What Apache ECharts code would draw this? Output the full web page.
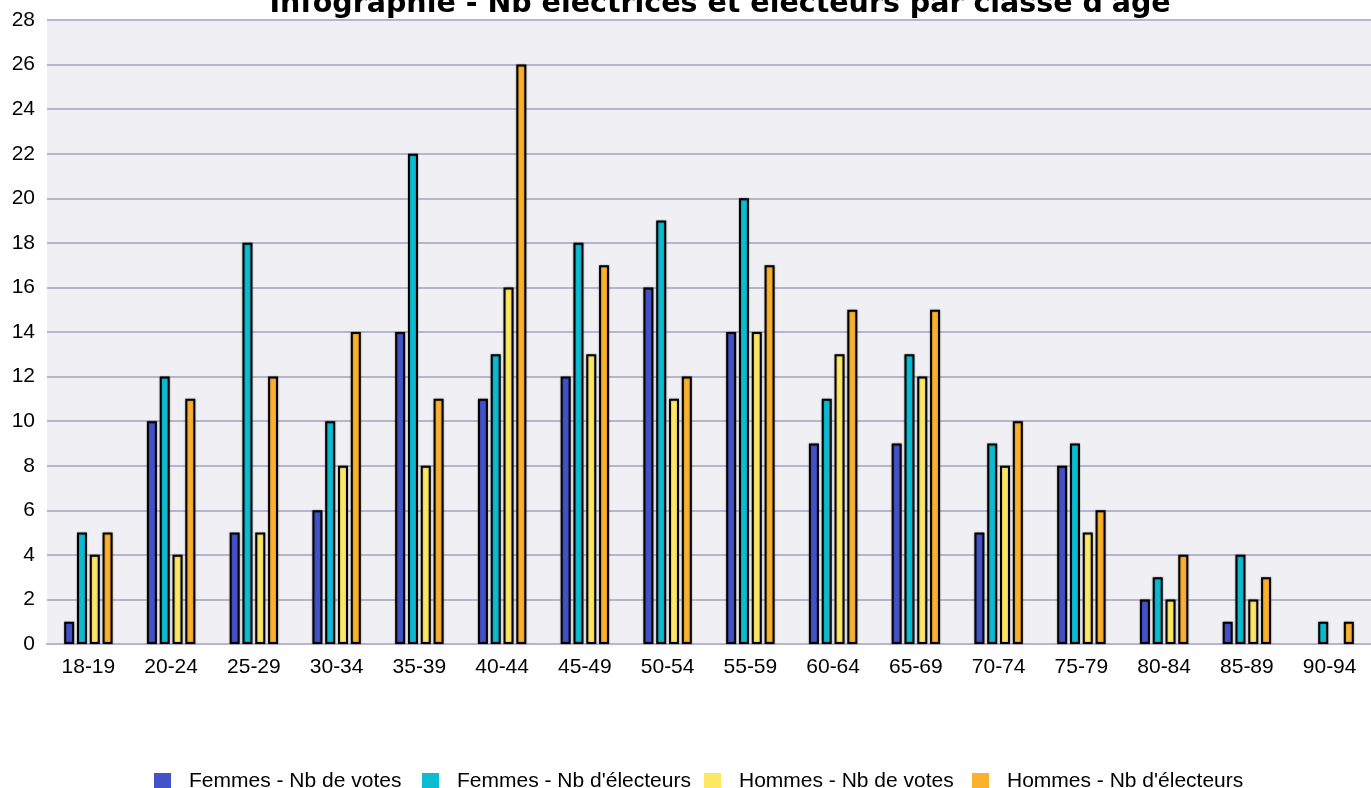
<!DOCTYPE html>
<html><head><meta charset="utf-8">
<script src="https://cdn.jsdelivr.net/npm/echarts@6/dist/echarts.min.js"></script>
<style>html,body{margin:0;padding:0;background:#fff}#c{width:1371px;height:788px}</style>
</head><body><div id="c"></div>
<script>
const categories = ['18-19','20-24','25-29','30-34','35-39','40-44','45-49','50-54','55-59','60-64','65-69','70-74','75-79','80-84','85-89','90-94'];
const femmesVotes = [1,10,5,6,14,11,12,16,14,9,9,5,8,2,1,0];
const femmesElecteurs = [5,12,18,10,22,13,18,19,20,11,13,9,9,3,4,1];
const hommesVotes = [4,4,5,8,8,16,13,11,14,13,12,8,5,2,2,0];
const hommesElecteurs = [5,11,12,14,11,26,17,12,17,15,15,10,6,4,3,1];
const seriesNames = ['Femmes - Nb de votes',"Femmes - Nb d'électeurs",'Hommes - Nb de votes',"Hommes - Nb d'électeurs"];
const colors = ['#4452c9','#0bbcd2','#fde866','#fbb12d'];
const values = [femmesVotes, femmesElecteurs, hommesVotes, hommesElecteurs];
const legendLefts = [154, 422, 704, 972];

const chart = echarts.init(document.getElementById('c'));
chart.setOption({
  animation: false,
  title: {
    text: "Infographie - Nb électrices et électeurs par classe d'âge",
    left: 715, top: -15, textAlign: 'center',
    textStyle: {fontFamily: 'DejaVu Sans', fontWeight: 'bold', fontSize: 28.5, color: '#000'}
  },
  legend: seriesNames.map((n, i) => ({
    top: 771, left: legendLefts[i], padding: 0,
    itemWidth: 17, itemHeight: 17,
    icon: 'rect',
    itemStyle: {borderWidth: 0},
    textStyle: {fontFamily: 'Liberation Sans', fontSize: 21, color: '#000', padding: [0,0,0,13]},
    data: [n]
  })),
  grid: {left: 47, right: 0, top: 20, bottom: 144, show: true, backgroundColor: '#efeff4', borderWidth: 0},
  xAxis: {
    type: 'category', data: categories,
    axisLine: {lineStyle: {color: '#b6b5cc', width: 2}},
    axisTick: {show: false},
    axisLabel: {fontFamily: 'Liberation Sans', fontSize: 21, color: '#000', margin: 13}
  },
  yAxis: {
    type: 'value', min: 0, max: 28, interval: 2,
    axisLine: {show: false}, axisTick: {show: false},
    splitLine: {lineStyle: {color: '#b6b5cc', width: 2}},
    axisLabel: {fontFamily: 'Liberation Sans', fontSize: 21, color: '#000', margin: 12}
  },
  series: values.map((v, i) => ({
    name: seriesNames[i], type: 'bar', data: v.map(x => x === 0 ? null : x),
    barWidth: 10, barGap: '28%',
    itemStyle: {color: colors[i], borderColor: '#000', borderWidth: 2, shadowBlur: 2, shadowColor: 'rgba(0,0,0,0.35)'}
  }))
});
</script></body></html>
